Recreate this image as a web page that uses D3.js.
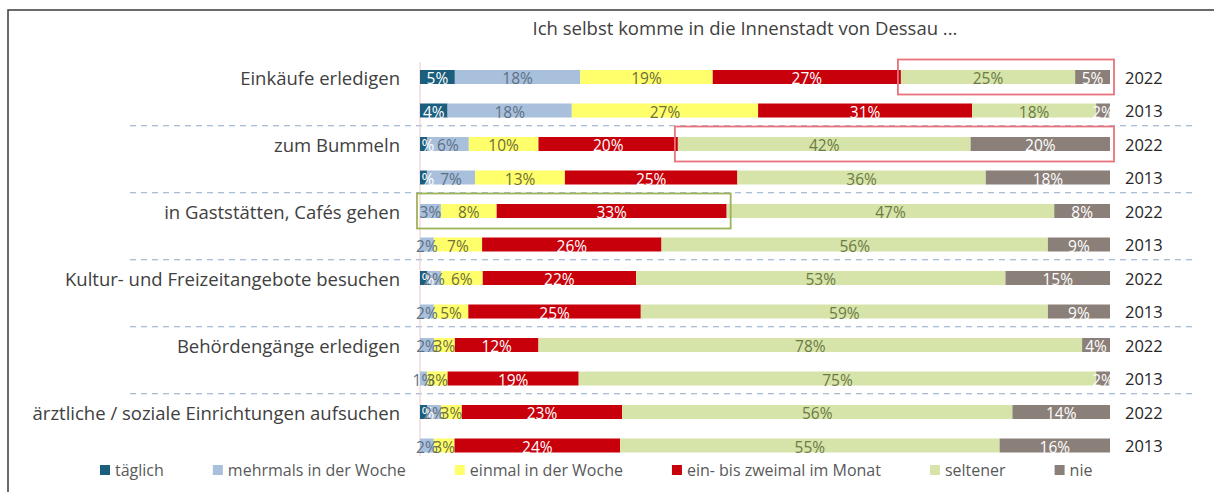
<!DOCTYPE html>
<html>
<head>
<meta charset="utf-8">
<script src="https://cdn.jsdelivr.net/npm/d3@7"></script>
<style>
  body { margin: 0; background: #fff; }
  svg { display: block; font-family: "Open Sans", Lato, sans-serif; }
</style>
</head>
<body>
<svg id="chart" width="1214" height="492"></svg>
<script>

var title = "Ich selbst komme in die Innenstadt von Dessau ...";

var categories = [
  "Einkäufe erledigen",
  "zum Bummeln",
  "in Gaststätten, Cafés gehen",
  "Kultur- und Freizeitangebote besuchen",
  "Behördengänge erledigen",
  "ärztliche / soziale Einrichtungen aufsuchen"
];

var years = ["2022", "2013"];

var seriesNames = ["täglich", "mehrmals in der Woche", "einmal in der Woche",
  "ein- bis zweimal im Monat", "seltener", "nie"];
var seriesColors = ["#1b5e7e", "#a9c0dc", "#ffff6b", "#c8000b", "#d7e4a9", "#8b8079"];
var labelColors = ["#ffffff", "#5d7084", "#6e6e3c", "#ffffff", "#6b7a46", "#ffffff"];

// percent per category, series order as seriesNames
var values2022 = [
  [5, 18, 19, 27, 25, 5],
  [1, 6, 10, 20, 42, 20],
  [0, 3, 8, 33, 47, 8],
  [1, 2, 6, 22, 53, 15],
  [0, 2, 3, 12, 78, 4],
  [1, 2, 3, 23, 56, 14]
];
var values2013 = [
  [4, 18, 27, 31, 18, 2],
  [1, 7, 13, 25, 36, 18],
  [0, 2, 7, 26, 56, 9],
  [0, 2, 5, 25, 59, 9],
  [0, 1, 3, 19, 75, 2],
  [0, 2, 3, 24, 55, 16]
];

// boxes drawn around some segments: row index, first and last series
var highlights = [
  { row: 0, from: 4, to: 5, color: "#e8737c" },
  { row: 2, from: 4, to: 5, color: "#e8737c" },
  { row: 4, from: 0, to: 3, color: "#9db35a" }
];


function buildRows() {
  var rows = [];
  for (var c = 0; c < categories.length; c++) {
    var pair = [values2022[c], values2013[c]];
    for (var k = 0; k < years.length; k++) {
      var row = { category: categories[c], year: years[k], first: k == 0 };
      for (var s = 0; s < seriesNames.length; s++) {
        row[s] = pair[k][s];
      }
      rows.push(row);
    }
  }
  return rows;
}


function drawChart() {
  var svg = d3.select("#chart");
  var rows = buildRows();

  var x = d3.scaleLinear().domain([0, 1]).range([420, 1110]);
  var y = d3.scaleBand().domain(d3.range(rows.length)).range([60.25, 462.25]);
  var barH = 14;

  var stacked = d3.stack()
    .keys(d3.range(seriesNames.length))
    .offset(d3.stackOffsetExpand)(rows);

  // frame
  svg.append("path")
    .attr("d", "M8,492V10H1214")
    .attr("fill", "none")
    .attr("stroke", "#3a3a3a")
    .attr("stroke-width", 1.5);

  svg.append("text")
    .attr("x", 745).attr("y", 27)
    .attr("text-anchor", "middle")
    .attr("dominant-baseline", "central")
    .attr("font-size", 18.5)
    .attr("fill", "#404040")
    .text(title);

  // dashed separators between categories
  for (var g = 1; g < categories.length; g++) {
    var yy = y(g * 2) - 1.5;
    svg.append("line")
      .attr("x1", 130).attr("x2", 1196)
      .attr("y1", yy).attr("y2", yy)
      .attr("stroke", "#8fa9c9")
      .attr("stroke-width", 1.2)
      .attr("stroke-dasharray", "6,5");
  }

  svg.append("line")
    .attr("x1", x(0)).attr("x2", x(0))
    .attr("y1", 62).attr("y2", 456)
    .attr("stroke", "#f4c4c4")
    .attr("stroke-width", 1);

  var center = function(i) { return y(i) + y.bandwidth() / 2; };

  var layers = svg.append("g").selectAll("g")
    .data(stacked)
    .join("g")
    .attr("fill", function(d) { return seriesColors[d.key]; });

  layers.selectAll("rect")
    .data(function(d) { return d; })
    .join("rect")
    .attr("x", function(d) { return x(d[0]); })
    .attr("width", function(d) { return x(d[1]) - x(d[0]); })
    .attr("y", function(d, i) { return center(i) - barH / 2; })
    .attr("height", barH);

  // value labels, series after series like the original
  var labelLayers = svg.append("g").selectAll("g")
    .data(stacked)
    .join("g")
    .attr("fill", function(d) { return labelColors[d.key]; })
    .attr("font-size", 15.5)
    .attr("text-anchor", "middle");

  labelLayers.each(function(layer) {
    d3.select(this).selectAll("text")
      .data(layer.map(function(d, i) { return { seg: d, row: i, value: d.data[layer.key] }; })
        .filter(function(d) { return d.value > 0; }))
      .join("text")
      .attr("x", function(d) { return (x(d.seg[0]) + x(d.seg[1])) / 2; })
      .attr("y", function(d) { return center(d.row) + 1; })
      .attr("dominant-baseline", "central")
      .text(function(d) { return d.value + "%"; });
  });

  svg.append("g").selectAll("text")
    .data(rows.filter(function(r) { return r.first; }))
    .join("text")
    .attr("x", 400)
    .attr("y", function(d) { return center(rows.indexOf(d)); })
    .attr("text-anchor", "end")
    .attr("dominant-baseline", "central")
    .attr("font-size", 18.5)
    .attr("fill", "#404040")
    .text(function(d) { return d.category; });

  svg.append("g").selectAll("text")
    .data(rows)
    .join("text")
    .attr("x", 1125)
    .attr("y", function(d, i) { return center(i); })
    .attr("dominant-baseline", "central")
    .attr("font-size", 16.5)
    .attr("fill", "#262626")
    .text(function(d) { return d.year; });

  for (var h = 0; h < highlights.length; h++) {
    var hl = highlights[h];
    var x0 = x(stacked[hl.from][hl.row][0]) - 3;
    var x1 = x(stacked[hl.to][hl.row][1]) + 4;
    svg.append("rect")
      .attr("x", x0).attr("width", x1 - x0)
      .attr("y", center(hl.row) - 17.5).attr("height", 35)
      .attr("fill", "none")
      .attr("stroke", hl.color)
      .attr("stroke-width", 1.8);
  }

  drawLegend(svg);
}


function drawLegend(svg) {
  var legend = svg.append("g").attr("transform", "translate(100, 470)");
  var pos = 0;
  for (var s = 0; s < seriesNames.length; s++) {
    var item = legend.append("g").attr("transform", "translate(" + pos + ",0)");
    item.append("rect")
      .attr("x", 0).attr("y", -5)
      .attr("width", 10).attr("height", 10)
      .attr("fill", seriesColors[s]);
    var label = item.append("text")
      .attr("x", 15)
      .attr("dominant-baseline", "central")
      .attr("font-size", 16)
      .attr("fill", "#595959")
      .text(seriesNames[s]);
    pos += 15 + label.node().getComputedTextLength() + 49;
  }
}

drawChart();
</script>
</body>
</html>
